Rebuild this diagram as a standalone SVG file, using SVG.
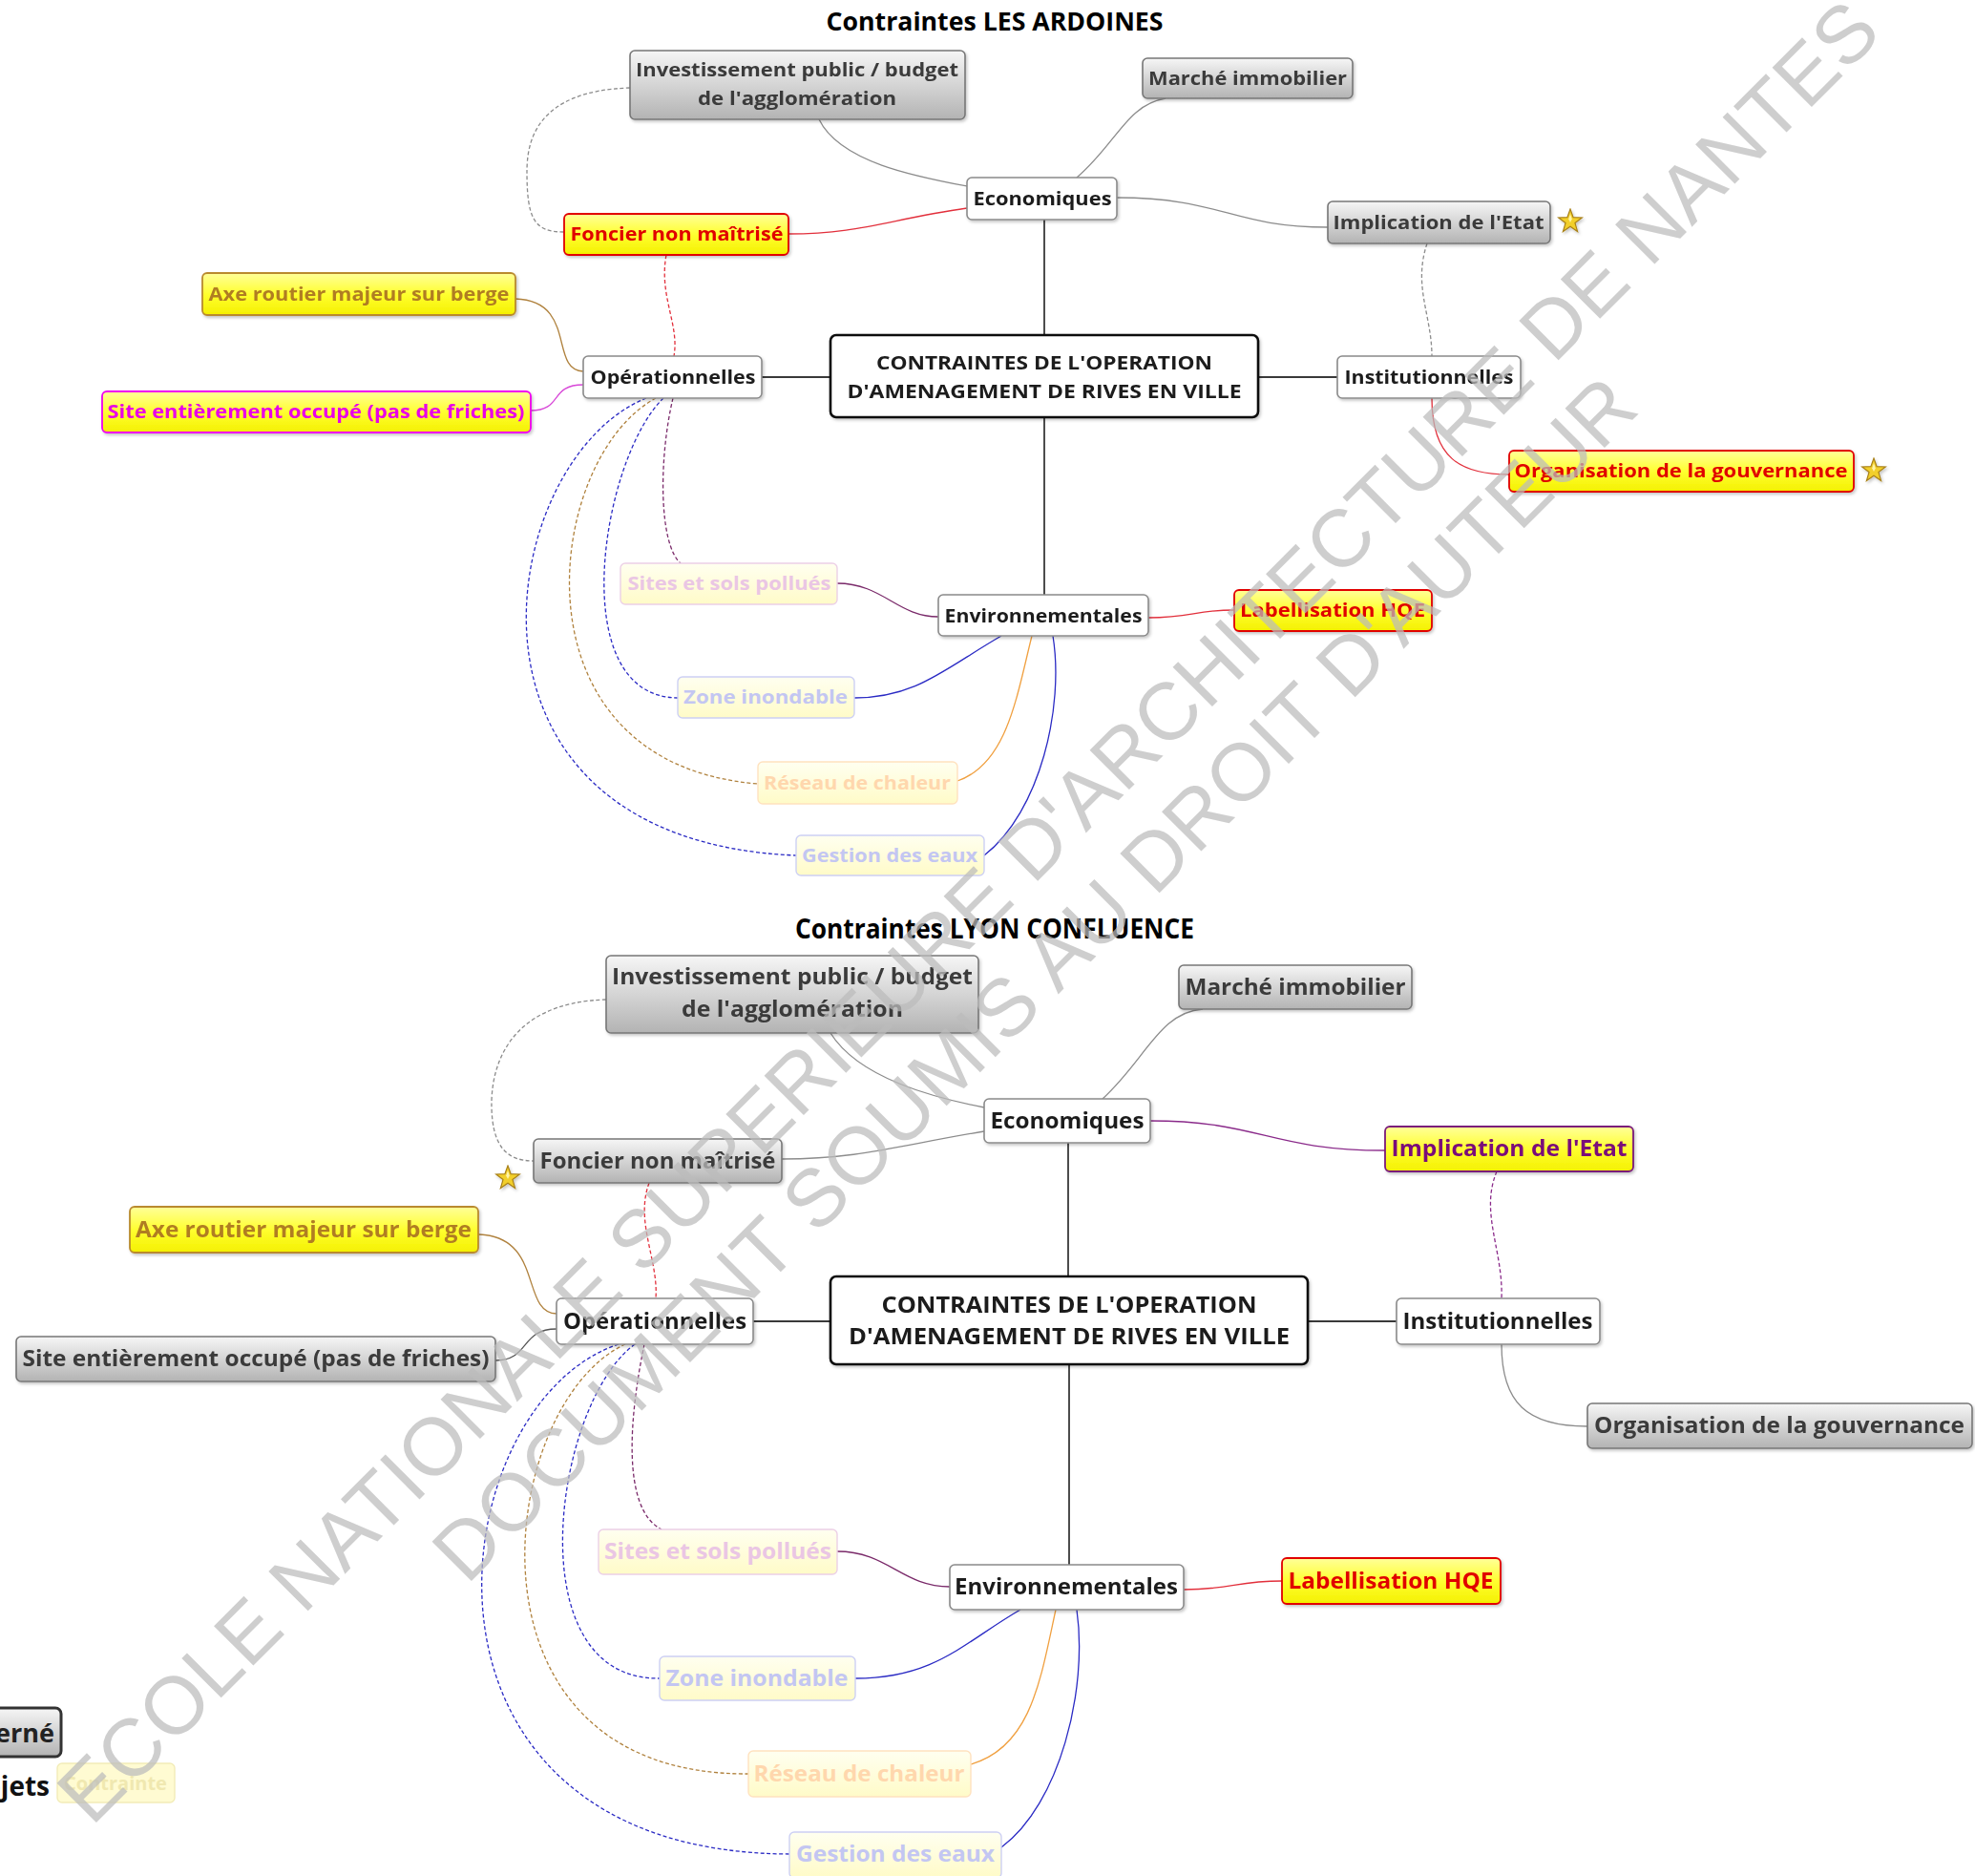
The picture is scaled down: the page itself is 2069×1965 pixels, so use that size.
<svg xmlns="http://www.w3.org/2000/svg" width="2069" height="1965" viewBox="0 0 2069 1965">
<defs>
<linearGradient id="gGray" x1="0" y1="0" x2="0" y2="1"><stop offset="0" stop-color="#f6f6f6"/><stop offset="1" stop-color="#b3b3b3"/></linearGradient>
<linearGradient id="gYel" x1="0" y1="0" x2="0" y2="1"><stop offset="0" stop-color="#ffff9a"/><stop offset="0.5" stop-color="#ffff30"/><stop offset="1" stop-color="#f4f000"/></linearGradient>
<linearGradient id="gPale" x1="0" y1="0" x2="0" y2="1"><stop offset="0" stop-color="#fffff0"/><stop offset="1" stop-color="#fffbc8"/></linearGradient>
<filter id="sh" x="-10%" y="-20%" width="120%" height="150%"><feDropShadow dx="1.5" dy="2" stdDeviation="1.5" flood-color="#000" flood-opacity="0.22"/></filter>
<symbol id="star" viewBox="-14 -14 28 28"><polygon points="0,-13 3.1,-4.3 12.4,-4 5,1.6 7.6,10.5 0,5.3 -7.6,10.5 -5,1.6 -12.4,-4 -3.1,-4.3" fill="#f2cf2a" stroke="#a8801a" stroke-width="1.2"/><polygon points="0,-8 1.8,-2.6 0,1 -1.8,-2.6" fill="#fff4a8"/></symbol>
<style>
.t{font-family:"Open Sans","Noto Sans","Liberation Sans",sans-serif;font-weight:700;text-anchor:middle}
.s20{font-size:20px}
.s22{font-size:22.5px}
.title{font-family:"Open Sans","Noto Sans","Liberation Sans",sans-serif;font-weight:700;text-anchor:middle;fill:#000}
.gray rect{fill:url(#gGray);stroke:#777;stroke-width:1.6}
.gray text{fill:#3a3a3a}
.white rect{fill:#fff;stroke:#8a8a8a;stroke-width:1.6}
.white text{fill:#1e1e1e}
.central rect{fill:#fff;stroke:#111;stroke-width:2.6}
.central text{fill:#1a1a1a}
.yred rect{fill:url(#gYel);stroke:#e10000;stroke-width:1.8}
.yred text{fill:#e00000}
.ybrown rect{fill:url(#gYel);stroke:#b98a2e;stroke-width:1.8}
.ybrown text{fill:#b07d22}
.ymag rect{fill:url(#gYel);stroke:#f000f0;stroke-width:1.8}
.ymag text{fill:#e800e8}
.ypurp rect{fill:url(#gYel);stroke:#7a1a7a;stroke-width:1.8}
.ypurp text{fill:#7a0a7a}
.pale rect{fill:url(#gPale);stroke-width:1.4}
.pink rect{stroke:#ecd0e6}.pink text{fill:#eac6e4}
.lblue rect{stroke:#cdd0f4}.lblue text{fill:#c3c6f2}
.lorange rect{stroke:#ffe2bf}.lorange text{fill:#ffd7ad}
.c{fill:none;stroke-width:1.3}
.d{stroke-dasharray:4 2.5}
.main{fill:none;stroke:#3a3a3a;stroke-width:1.8}
.cg{stroke:#8c8c8c}.cr{stroke:#e2303c}.cp{stroke:#7a2a6a}.cb{stroke:#2a2ac4}.co{stroke:#f0a040}.cbr{stroke:#b0823e}.cm{stroke:#d848d8}.cpu{stroke:#8a2a8a}.cdg{stroke:#555}
.wm{font-family:"Liberation Sans",Arial,sans-serif;font-size:85px;fill:#bcbcbc;opacity:0.72}
</style>
</defs>
<rect width="2069" height="1965" fill="#fff"/>

<text class="title" x="1042" y="32" font-size="27" textLength="353" lengthAdjust="spacingAndGlyphs">Contraintes LES ARDOINES</text>
<text class="title" x="1042" y="983" font-size="29" textLength="418" lengthAdjust="spacingAndGlyphs">Contraintes LYON CONFLUENCE</text>

<g id="connectors">
<!-- top -->
<path class="main" d="M1094 351 V230 M870 395 H798 M1318 395 H1401 M1094 437 V623"/>
<path class="c cg" d="M858 125 C880 170 960 185 1013 195"/>
<path class="c cg" d="M1128 186 C1170 150 1180 110 1221 103"/>
<path class="c cg" d="M1170 207 C1280 207 1290 238 1391 238"/>
<path class="c cr" d="M1013 218 C930 230 900 245 826 245"/>
<path class="c cg d" d="M660 92 C560 95 552 150 552 180 C552 230 560 243 591 243"/>
<path class="c cr d" d="M698 267 C690 310 712 340 706 373"/>
<path class="c cbr" d="M540 313 C605 315 575 388 611 389"/>
<path class="c cm" d="M556 430 C590 430 575 403 611 403"/>
<path class="c cg d" d="M1495 255 C1480 300 1500 330 1500 373"/>
<path class="c cr" d="M1500 417 C1500 480 1530 497 1581 497"/>
<path class="c cp" d="M983 646 C940 646 925 611 877 611"/>
<path class="c cr" d="M1203 647 C1250 647 1250 639 1293 639"/>
<path class="c cb" d="M1049 666 C990 700 960 731 895 731"/>
<path class="c co" d="M1081 666 C1065 730 1055 800 1003 818"/>
<path class="c cb" d="M1103 666 C1115 740 1090 850 1031 896"/>
<path class="c cp d" d="M705 417 C690 480 690 570 713 590"/>
<path class="c cb d" d="M695 417 C630 480 590 730 710 731"/>
<path class="c cbr d" d="M687 417 C570 480 530 800 794 821"/>
<path class="c cb d" d="M677 417 C520 480 450 880 834 896"/>
<!-- bottom -->
<path class="main" d="M1119 1337 V1197 M870 1384 H789 M1370 1384 H1463 M1120 1429 V1639"/>
<path class="c cg" d="M870 1082 C900 1130 980 1150 1031 1160"/>
<path class="c cg" d="M1155 1151 C1200 1110 1215 1060 1260 1057"/>
<path class="c cpu" d="M1205 1174 C1320 1174 1330 1205 1451 1205"/>
<path class="c cg" d="M1031 1185 C940 1200 900 1214 819 1214"/>
<path class="c cg d" d="M635 1047 C530 1050 514 1120 515 1160 C516 1200 530 1216 559 1216"/>
<path class="c cr d" d="M680 1239 C665 1280 690 1320 687 1360"/>
<path class="c cbr" d="M501 1293 C570 1295 545 1375 583 1376"/>
<path class="c cdg" d="M519 1425 C555 1425 545 1392 583 1392"/>
<path class="c cpu d" d="M1568 1227 C1550 1270 1575 1310 1573 1360"/>
<path class="c cg" d="M1573 1408 C1573 1470 1600 1494 1663 1494"/>
<path class="c cp" d="M995 1662 C945 1662 930 1625 877 1625"/>
<path class="c cr" d="M1240 1665 C1290 1665 1295 1656 1343 1656"/>
<path class="c cb" d="M1069 1686 C1010 1720 980 1758 896 1758"/>
<path class="c co" d="M1106 1686 C1090 1760 1080 1830 1017 1848"/>
<path class="c cb" d="M1128 1686 C1140 1770 1110 1890 1049 1935"/>
<path class="c cp d" d="M675 1408 C660 1480 650 1580 693 1602"/>
<path class="c cb d" d="M665 1408 C580 1470 540 1760 691 1758"/>
<path class="c cbr d" d="M655 1408 C520 1470 470 1860 784 1858"/>
<path class="c cb d" d="M648 1408 C460 1470 400 1940 827 1942"/>
</g>

<!-- TOP NODES -->
<g id="t-invest" class="gray" filter="url(#sh)"><rect x="660" y="53" width="351" height="72" rx="5"/><text class="t s20" x="835" y="80" textLength="338" lengthAdjust="spacingAndGlyphs">Investissement public / budget</text><text class="t s20" x="835" y="110" textLength="208" lengthAdjust="spacingAndGlyphs">de l'agglomération</text></g>
<g id="t-marche" class="gray" filter="url(#sh)"><rect x="1197" y="61" width="220" height="42" rx="5"/><text class="t s20" x="1307" y="89" textLength="208" lengthAdjust="spacingAndGlyphs">Marché immobilier</text></g>
<g id="t-econ" class="white" filter="url(#sh)"><rect x="1013" y="186" width="157" height="44" rx="5"/><text class="t s20" x="1092" y="215" textLength="145" lengthAdjust="spacingAndGlyphs">Economiques</text></g>
<g id="t-impl" class="gray" filter="url(#sh)"><rect x="1391" y="211" width="233" height="44" rx="5"/><text class="t s20" x="1507" y="240" textLength="221" lengthAdjust="spacingAndGlyphs">Implication de l'Etat</text><use href="#star" x="1631" y="218" width="28" height="28"/></g>
<g id="t-foncier" class="yred" filter="url(#sh)"><rect x="591" y="224" width="235" height="43" rx="5"/><text class="t s20" x="709" y="252" textLength="223" lengthAdjust="spacingAndGlyphs">Foncier non maîtrisé</text></g>
<g id="t-axe" class="ybrown" filter="url(#sh)"><rect x="212" y="286" width="328" height="44" rx="5"/><text class="t s20" x="376" y="315" textLength="315" lengthAdjust="spacingAndGlyphs">Axe routier majeur sur berge</text></g>
<g id="t-ope" class="white" filter="url(#sh)"><rect x="611" y="373" width="187" height="44" rx="5"/><text class="t s20" x="705" y="402" textLength="173" lengthAdjust="spacingAndGlyphs">Opérationnelles</text></g>
<g id="t-site" class="ymag" filter="url(#sh)"><rect x="107" y="410" width="449" height="43" rx="5"/><text class="t s20" x="331" y="438" textLength="437" lengthAdjust="spacingAndGlyphs">Site entièrement occupé (pas de friches)</text></g>
<g id="t-central" class="central" filter="url(#sh)"><rect x="870" y="351" width="448" height="86" rx="6"/><text class="t s20" x="1094" y="387" textLength="352" lengthAdjust="spacingAndGlyphs">CONTRAINTES DE L'OPERATION</text><text class="t s20" x="1094" y="417" textLength="413" lengthAdjust="spacingAndGlyphs">D'AMENAGEMENT DE RIVES EN VILLE</text></g>
<g id="t-inst" class="white" filter="url(#sh)"><rect x="1401" y="373" width="192" height="44" rx="5"/><text class="t s20" x="1497" y="402" textLength="177" lengthAdjust="spacingAndGlyphs">Institutionnelles</text></g>
<g id="t-org" class="yred" filter="url(#sh)"><rect x="1581" y="472" width="361" height="43" rx="5"/><text class="t s20" x="1761" y="500" textLength="349" lengthAdjust="spacingAndGlyphs">Organisation de la gouvernance</text><use href="#star" x="1949" y="479" width="28" height="28"/></g>
<g id="t-pollues" class="pale pink"><rect x="650" y="590" width="227" height="43" rx="5"/><text class="t s20" x="764" y="618" textLength="213" lengthAdjust="spacingAndGlyphs">Sites et sols pollués</text></g>
<g id="t-env" class="white" filter="url(#sh)"><rect x="983" y="623" width="220" height="43" rx="5"/><text class="t s20" x="1093" y="652" textLength="207" lengthAdjust="spacingAndGlyphs">Environnementales</text></g>
<g id="t-label" class="yred" filter="url(#sh)"><rect x="1293" y="618" width="207" height="43" rx="5"/><text class="t s20" x="1396" y="646" textLength="194" lengthAdjust="spacingAndGlyphs">Labellisation HQE</text></g>
<g id="t-zone" class="pale lblue"><rect x="710" y="709" width="185" height="43" rx="5"/><text class="t s20" x="802" y="737" textLength="172" lengthAdjust="spacingAndGlyphs">Zone inondable</text></g>
<g id="t-reseau" class="pale lorange"><rect x="794" y="798" width="209" height="44" rx="5"/><text class="t s20" x="898" y="827" textLength="196" lengthAdjust="spacingAndGlyphs">Réseau de chaleur</text></g>
<g id="t-gestion" class="pale lblue"><rect x="834" y="875" width="197" height="42" rx="5"/><text class="t s20" x="932" y="903" textLength="184" lengthAdjust="spacingAndGlyphs">Gestion des eaux</text></g>

<!-- BOTTOM NODES -->
<g id="b-invest" class="gray" filter="url(#sh)"><rect x="635" y="1001" width="390" height="81" rx="5"/><text class="t s22" x="830" y="1031" textLength="378" lengthAdjust="spacingAndGlyphs">Investissement public / budget</text><text class="t s22" x="830" y="1065" textLength="232" lengthAdjust="spacingAndGlyphs">de l'agglomération</text></g>
<g id="b-marche" class="gray" filter="url(#sh)"><rect x="1235" y="1011" width="244" height="46" rx="5"/><text class="t s22" x="1357" y="1042" textLength="231" lengthAdjust="spacingAndGlyphs">Marché immobilier</text></g>
<g id="b-econ" class="white" filter="url(#sh)"><rect x="1031" y="1151" width="174" height="46" rx="5"/><text class="t s22" x="1118" y="1182" textLength="161" lengthAdjust="spacingAndGlyphs">Economiques</text></g>
<g id="b-foncier" class="gray" filter="url(#sh)"><rect x="559" y="1193" width="260" height="46" rx="5"/><text class="t s22" x="689" y="1224" textLength="247" lengthAdjust="spacingAndGlyphs">Foncier non maîtrisé</text><use href="#star" x="518" y="1220" width="28" height="28"/></g>
<g id="b-impl" class="ypurp" filter="url(#sh)"><rect x="1451" y="1180" width="260" height="47" rx="5"/><text class="t s22" x="1581" y="1211" textLength="247" lengthAdjust="spacingAndGlyphs">Implication de l'Etat</text></g>
<g id="b-axe" class="ybrown" filter="url(#sh)"><rect x="136" y="1264" width="365" height="48" rx="5"/><text class="t s22" x="318" y="1296" textLength="352" lengthAdjust="spacingAndGlyphs">Axe routier majeur sur berge</text></g>
<g id="b-ope" class="white" filter="url(#sh)"><rect x="583" y="1360" width="206" height="48" rx="5"/><text class="t s22" x="686" y="1392" textLength="192" lengthAdjust="spacingAndGlyphs">Opérationnelles</text></g>
<g id="b-site" class="gray" filter="url(#sh)"><rect x="17" y="1400" width="502" height="47" rx="5"/><text class="t s22" x="268" y="1431" textLength="489" lengthAdjust="spacingAndGlyphs">Site entièrement occupé (pas de friches)</text></g>
<g id="b-central" class="central" filter="url(#sh)"><rect x="870" y="1337" width="500" height="92" rx="6"/><text class="t s22" x="1120" y="1375" textLength="393" lengthAdjust="spacingAndGlyphs">CONTRAINTES DE L'OPERATION</text><text class="t s22" x="1120" y="1408" textLength="462" lengthAdjust="spacingAndGlyphs">D'AMENAGEMENT DE RIVES EN VILLE</text></g>
<g id="b-inst" class="white" filter="url(#sh)"><rect x="1463" y="1360" width="213" height="48" rx="5"/><text class="t s22" x="1569" y="1392" textLength="199" lengthAdjust="spacingAndGlyphs">Institutionnelles</text></g>
<g id="b-org" class="gray" filter="url(#sh)"><rect x="1663" y="1470" width="403" height="47" rx="5"/><text class="t s22" x="1864" y="1501" textLength="388" lengthAdjust="spacingAndGlyphs">Organisation de la gouvernance</text></g>
<g id="b-pollues" class="pale pink"><rect x="627" y="1602" width="250" height="47" rx="5"/><text class="t s22" x="752" y="1633" textLength="238" lengthAdjust="spacingAndGlyphs">Sites et sols pollués</text></g>
<g id="b-env" class="white" filter="url(#sh)"><rect x="995" y="1639" width="245" height="47" rx="5"/><text class="t s22" x="1117" y="1670" textLength="234" lengthAdjust="spacingAndGlyphs">Environnementales</text></g>
<g id="b-label" class="yred" filter="url(#sh)"><rect x="1343" y="1632" width="229" height="48" rx="5"/><text class="t s22" x="1457" y="1664" textLength="215" lengthAdjust="spacingAndGlyphs">Labellisation HQE</text></g>
<g id="b-zone" class="pale lblue"><rect x="691" y="1735" width="205" height="46" rx="5"/><text class="t s22" x="793" y="1766" textLength="191" lengthAdjust="spacingAndGlyphs">Zone inondable</text></g>
<g id="b-reseau" class="pale lorange"><rect x="784" y="1834" width="233" height="48" rx="5"/><text class="t s22" x="900" y="1866" textLength="221" lengthAdjust="spacingAndGlyphs">Réseau de chaleur</text></g>
<g id="b-gestion" class="pale lblue"><rect x="827" y="1919" width="222" height="48" rx="5"/><text class="t s22" x="938" y="1950" textLength="208" lengthAdjust="spacingAndGlyphs">Gestion des eaux</text></g>

<!-- legend fragment -->
<g id="legend">
<rect x="-12" y="1789" width="76" height="51" rx="6" fill="url(#gGray)" stroke="#333" stroke-width="3"/>
<text x="57" y="1825" font-family="Open Sans,Noto Sans,sans-serif" font-weight="700" font-size="27" text-anchor="end" fill="#222">erné</text>
<text x="52" y="1881" font-family="Open Sans,Noto Sans,sans-serif" font-weight="700" font-size="28" text-anchor="end" fill="#111">ojets</text>
<rect x="60" y="1847" width="123" height="41" rx="5" fill="#fffbd2" stroke="#f2ecb8" stroke-width="1.4"/>
<text x="121" y="1875" font-family="Open Sans,Noto Sans,sans-serif" font-weight="700" font-size="20" text-anchor="middle" fill="#f0e8b0">Contrainte</text>
</g>

<!-- watermark -->
<g id="watermark">
<text class="wm" transform="translate(96 1914) rotate(-45)" textLength="2655" lengthAdjust="spacing">ECOLE NATIONALE SUPERIEURE D'ARCHITECTURE DE NANTES</text>
<text class="wm" transform="translate(489 1661) rotate(-45)" textLength="1740" lengthAdjust="spacing">DOCUMENT SOUMIS AU DROIT D'AUTEUR</text>
</g>
</svg>
